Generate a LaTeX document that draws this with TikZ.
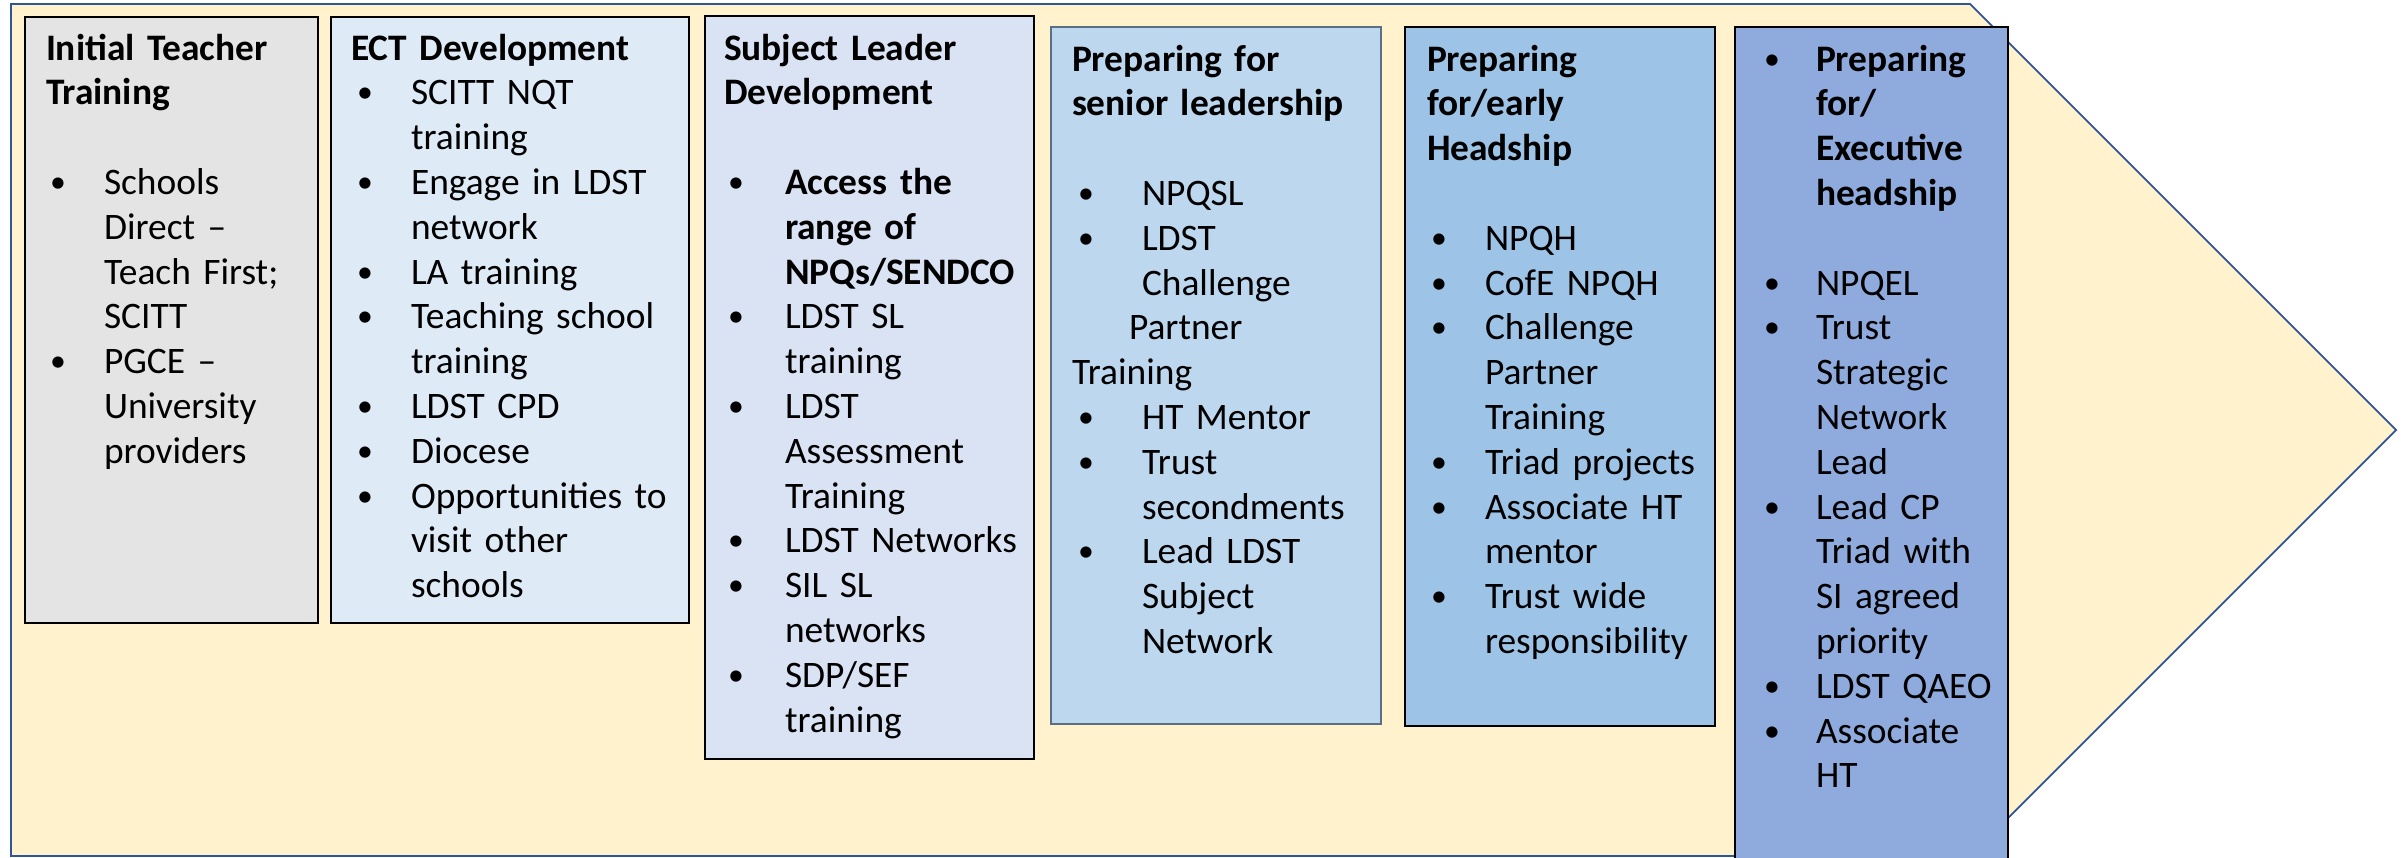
\documentclass[tikz,border=0pt]{standalone}
\usepackage{fontspec}
\setmainfont{Carlito}
\definecolor{arrowfill}{HTML}{FFF2CC}
\definecolor{arrowline}{HTML}{2F5597}
\definecolor{cA}{HTML}{E4E4E4}
\definecolor{cB}{HTML}{DEEBF7}
\definecolor{cC}{HTML}{DAE3F3}
\definecolor{cD}{HTML}{BDD7EE}
\definecolor{cE}{HTML}{9DC3E6}
\definecolor{cF}{HTML}{8FAADC}
\definecolor{borderD}{HTML}{5A6E86}
\newlength\bulx
\newlength\txtx
\newcommand\bu{\hspace*{\bulx}\makebox[\dimexpr\txtx-\bulx\relax][l]{\raisebox{0.05em}{\scalebox{0.85}{\textbullet}}}}
\newcommand\ct{\hspace*{\txtx}}
\tikzset{
  stagebox/.style={draw=black, line width=2pt, anchor=north west, inner sep=0pt, outer sep=0pt},
  stagetext/.style={anchor=base west, inner sep=0pt, outer sep=0pt, text width=500pt, align=left,
    font=\fontsize{37.4pt}{44.8pt}\selectfont},
  arrowshape/.style={fill=arrowfill, draw=arrowline, line width=1.8pt, line join=miter}
}
\begin{document}
\begin{tikzpicture}[x=1pt,y=-1pt]
\useasboundingbox (0,0) rectangle (2405,857);
\clip (0,0) rectangle (2405,857);
% big arrow
\coordinate (tl) at (11,4);
\coordinate (hb) at (1970,4);
\coordinate (tip) at (2396,430);
\coordinate (hbb) at (1970,856);
\coordinate (bl) at (11,856);
\draw[arrowshape] (tl) -- (hb) -- (tip) -- (hbb) -- (bl) -- cycle;
% boxes
\node[stagebox, fill=cA, minimum width=293pt, minimum height=606pt] (itt) at (25,17) {};
\node[stagebox, fill=cB, minimum width=358pt, minimum height=606pt] (ect) at (331,17) {};
\node[stagebox, fill=cC, minimum width=329pt, minimum height=743pt] (sld) at (705,16) {};
\node[stagebox, fill=cD, draw=borderD, line width=1.5pt, minimum width=330pt, minimum height=697pt] (psl) at (1051,27) {};
\node[stagebox, fill=cE, minimum width=310pt, minimum height=699pt] (peh) at (1405,27) {};
\node[stagebox, fill=cF, minimum width=273pt, minimum height=860pt] (pex) at (1735,27) {};
% texts
\node[stagetext] (itt-t) at (46,60) {\setlength\bulx{4pt}\setlength\txtx{58pt}%
\textbf{Initial Teacher}\\
\textbf{Training}\\
\mbox{}\\
\bu Schools\\
\ct Direct –\\
\ct Teach First;\\
\ct SCITT\\
\bu PGCE –\\
\ct University\\
\ct providers};
\node[stagetext] (ect-t) at (351,60) {\setlength\bulx{6pt}\setlength\txtx{60pt}%
\textbf{ECT Development}\\
\bu SCITT NQT\\
\ct training\\
\bu Engage in LDST\\
\ct network\\
\bu LA training\\
\bu Teaching school\\
\ct training\\
\bu LDST CPD\\
\bu Diocese\\
\bu Opportunities to\\
\ct visit other\\
\ct schools};
\node[stagetext] (sld-t) at (724,60) {\setlength\bulx{4pt}\setlength\txtx{61pt}%
\textbf{Subject Leader}\\
\textbf{Development}\\
\mbox{}\\
\bu\textbf{Access the}\\
\ct\textbf{range of}\\
\ct\textbf{NPQs/SENDCO}\\
\bu LDST SL\\
\ct training\\
\bu LDST\\
\ct Assessment\\
\ct Training\\
\bu LDST Networks\\
\bu SIL SL\\
\ct networks\\
\bu SDP/SEF\\
\ct training};
\node[stagetext] (psl-t) at (1072,71) {\setlength\bulx{6pt}\setlength\txtx{70pt}%
\textbf{Preparing for}\\
\textbf{senior leadership}\\
\mbox{}\\
\bu NPQSL\\
\bu LDST\\
\ct Challenge\\
\hspace*{57pt}Partner\\
Training\\
\bu HT Mentor\\
\bu Trust\\
\ct secondments\\
\bu Lead LDST\\
\ct Subject\\
\ct Network};
\node[stagetext] (peh-t) at (1427,71) {\setlength\bulx{4pt}\setlength\txtx{58pt}%
\textbf{Preparing}\\
\textbf{for/early}\\
\textbf{Headship}\\
\mbox{}\\
\bu NPQH\\
\bu CofE NPQH\\
\bu Challenge\\
\ct Partner\\
\ct Training\\
\bu Triad projects\\
\bu Associate HT\\
\ct mentor\\
\bu Trust wide\\
\ct responsibility};
\node[stagetext] (pex-t) at (1760,71) {\setlength\bulx{4pt}\setlength\txtx{56pt}%
\bu\textbf{Preparing}\\
\ct\textbf{for/}\\
\ct\textbf{Executive}\\
\ct\textbf{headship}\\
\mbox{}\\
\bu NPQEL\\
\bu Trust\\
\ct Strategic\\
\ct Network\\
\ct Lead\\
\bu Lead CP\\
\ct Triad with\\
\ct SI agreed\\
\ct priority\\
\bu LDST QAEO\\
\bu Associate\\
\ct HT};
\end{tikzpicture}
\end{document}
